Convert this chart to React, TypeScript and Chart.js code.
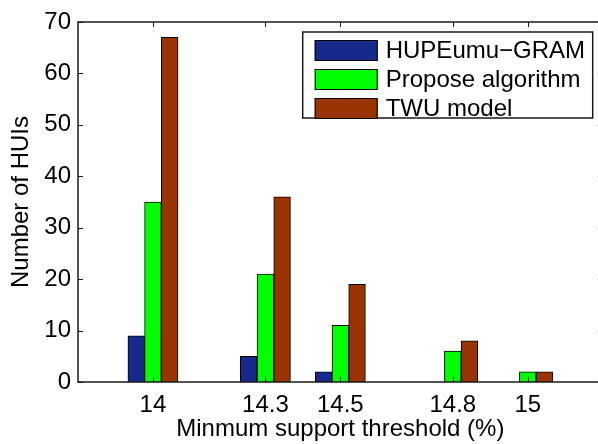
import React, { useEffect, useRef } from "react";
import { Chart, registerables } from "chart.js";

Chart.register(...registerables);

const thresholds = [14, 14.3, 14.5, 14.8, 15];
const xTickLabels = ["14", "14.3", "14.5", "14.8", "15"];
const yTickValues = [0, 10, 20, 30, 40, 50, 60, 70];
const seriesNames = ["HUPEumu\u2212GRAM", "Propose algorithm", "TWU model"];
const hupeumuGram = [9, 5, 2, 0, 0];
const proposeAlgorithm = [35, 21, 11, 6, 2];
const twuModel = [67, 36, 19, 8, 2];
const seriesColors = ["#172a8c", "#00ff00", "#993300"];
const xTitle = "Minmum support threshold (%)";
const yTitle = "Number of HUIs";

const FONT = "'Liberation Sans', Arial, Helvetica, sans-serif";
const FS = 24;

const framePlugin = {
  id: "matlabFrame",
  afterDatasetsDraw(chart: any) {
    const { ctx, chartArea: a, scales } = chart;
    ctx.save();
    ctx.strokeStyle = "#1a1a1a";
    ctx.lineWidth = 1.5;
    ctx.strokeRect(a.left, a.top, a.right - a.left, a.bottom - a.top);
    ctx.lineWidth = 1;
    const L = 5;
    ctx.beginPath();
    scales.x.ticks.forEach((t: any) => {
      const px = Math.round(scales.x.getPixelForValue(t.value)) + 0.5;
      ctx.moveTo(px, a.bottom);
      ctx.lineTo(px, a.bottom - L);
      ctx.moveTo(px, a.top);
      ctx.lineTo(px, a.top + L);
    });
    scales.y.ticks.forEach((t: any) => {
      const py = Math.round(scales.y.getPixelForValue(t.value)) + 0.5;
      ctx.moveTo(a.left, py);
      ctx.lineTo(a.left + L, py);
      ctx.moveTo(a.right, py);
      ctx.lineTo(a.right - L, py);
    });
    ctx.stroke();
    ctx.restore();
  },
  afterDraw(chart: any) {
    const { ctx, chartArea: a } = chart;
    const boxRight = a.right - 10;
    const boxLeft = boxRight - 290;
    const boxTop = a.top + 10;
    const boxH = 86;
    ctx.save();
    ctx.fillStyle = "#ffffff";
    ctx.fillRect(boxLeft, boxTop, boxRight - boxLeft, boxH);
    ctx.strokeStyle = "#1a1a1a";
    ctx.lineWidth = 1.5;
    ctx.strokeRect(boxLeft, boxTop, boxRight - boxLeft, boxH);
    ctx.font = `${FS}px ${FONT}`;
    ctx.textBaseline = "middle";
    ctx.textAlign = "left";
    chart.data.datasets.forEach((ds: any, i: number) => {
      const cy = boxTop + 18.5 + i * 29;
      ctx.fillStyle = ds.backgroundColor;
      ctx.fillRect(boxLeft + 12, cy - 10.5, 63, 21);
      ctx.strokeStyle = "#000";
      ctx.lineWidth = 1;
      ctx.strokeRect(boxLeft + 12.5, cy - 10, 62, 20);
      ctx.fillStyle = "#000";
      ctx.fillText(ds.label, boxLeft + 83, cy + 1);
    });
    ctx.restore();
  },
};

export default function App() {
  const ref = useRef<HTMLCanvasElement>(null);
  useEffect(() => {
    if (!ref.current) return;
    const seriesValues = [hupeumuGram, proposeAlgorithm, twuModel];
    const chart = new Chart(ref.current, {
      type: "bar",
      data: {
        datasets: seriesValues.map((vals, i) => ({
          label: seriesNames[i],
          data: thresholds.map((x, j) => ({ x, y: vals[j] })),
          backgroundColor: seriesColors[i],
          borderColor: "#000000",
          borderWidth: 1,
          barThickness: 16.7,
        })),
      },
      options: {
        animation: false,
        responsive: false,
        devicePixelRatio: 1,
        layout: { padding: { left: 0, top: 22, right: 3.3, bottom: 0 } },
        plugins: { legend: { display: false }, tooltip: { enabled: false } },
        scales: {
          x: {
            type: "linear",
            min: 13.8,
            max: 15.2,
            offset: false,
            grid: { display: false, drawTicks: false },
            border: { display: false },
            afterBuildTicks: (s: any) => {
              s.ticks = thresholds.map((v) => ({ value: v }));
            },
            ticks: {
              autoSkip: false,
              maxRotation: 0,
              minRotation: 0,
              padding: 9,
              color: "#000",
              font: { family: FONT, size: FS },
              callback: (_v: any, idx: number) => xTickLabels[idx],
            },
            title: {
              display: true,
              text: xTitle,
              color: "#000",
              font: { family: FONT, size: FS },
              padding: { top: 8, bottom: 0 },
            },
            afterFit: (s: any) => {
              s.height = 62;
            },
          },
          y: {
            type: "linear",
            min: 0,
            max: 70,
            grid: { display: false, drawTicks: false },
            border: { display: false },
            afterBuildTicks: (s: any) => {
              s.ticks = yTickValues.map((v) => ({ value: v }));
            },
            ticks: {
              padding: 7,
              color: "#000",
              font: { family: FONT, size: FS },
            },
            title: {
              display: true,
              text: yTitle,
              color: "#000",
              font: { family: FONT, size: FS },
              padding: { top: 7, bottom: 0 },
            },
            afterFit: (s: any) => {
              s.width = 78;
            },
          },
        },
      } as any,
      plugins: [framePlugin],
    });
    return () => chart.destroy();
  }, []);
  return (
    <div
      style={{
        position: "fixed",
        left: 0,
        top: 0,
        width: 598,
        height: 444,
        overflow: "hidden",
        background: "#fff",
      }}
    >
      <canvas ref={ref} width={606} height={444} style={{ display: "block", width: 606, height: 444 }} />
    </div>
  );
}
